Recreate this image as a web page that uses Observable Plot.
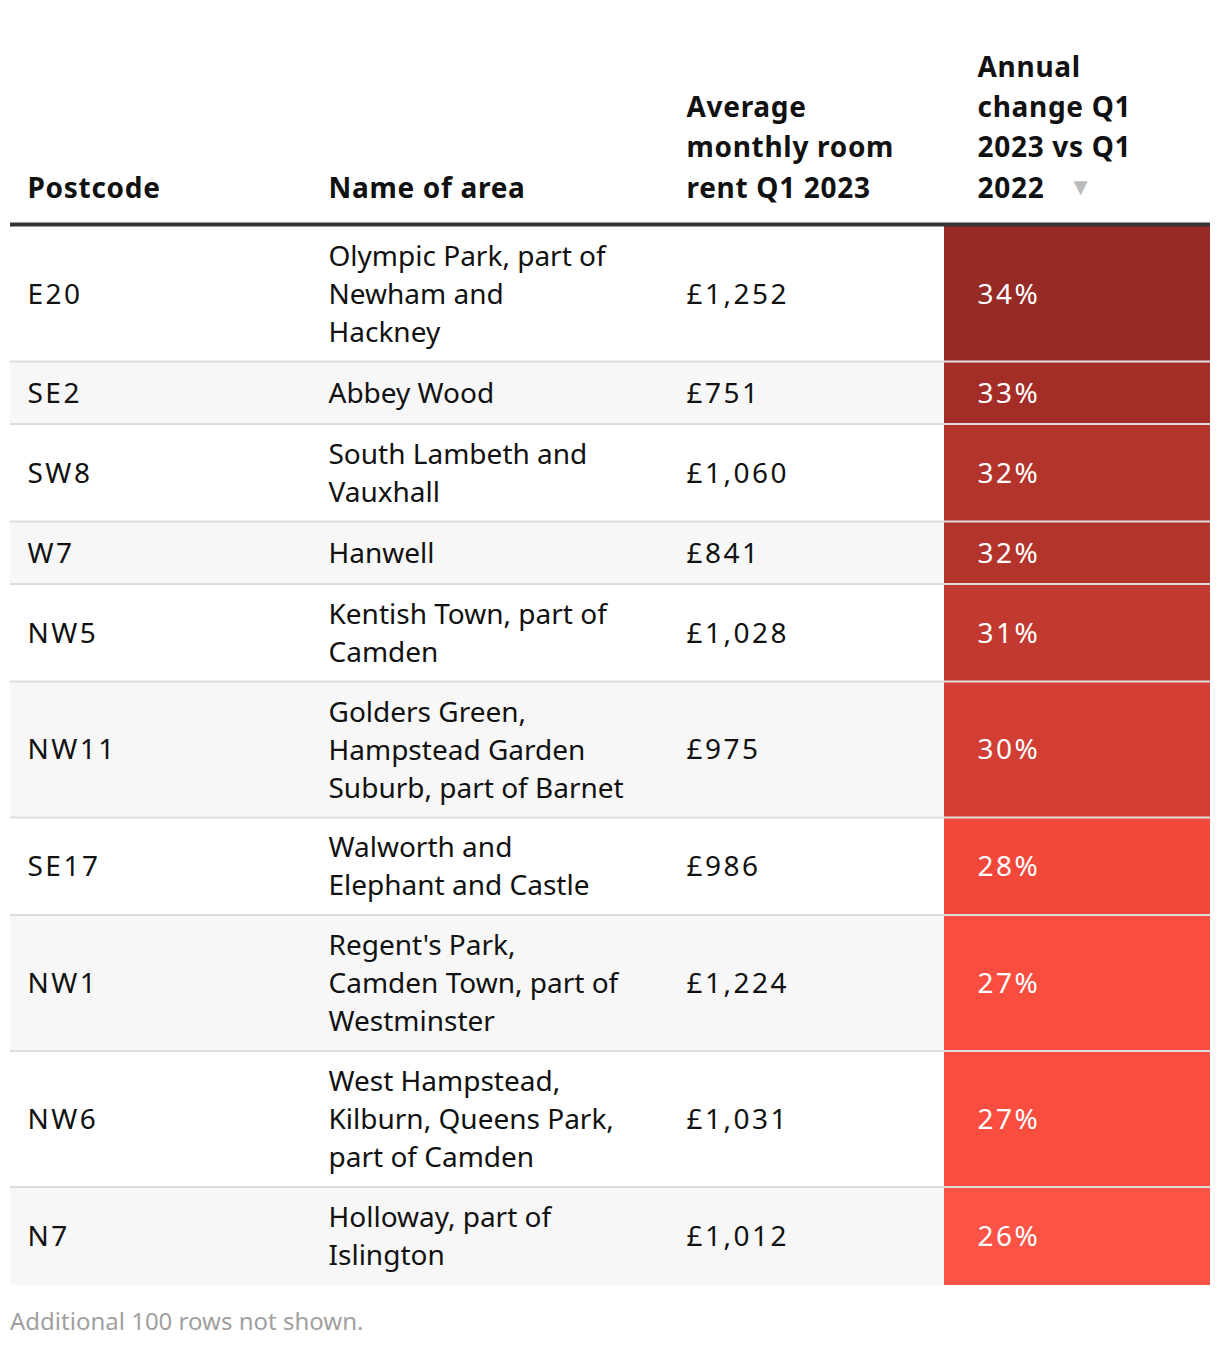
<!DOCTYPE html>
<html><head><meta charset="utf-8">
<script src="https://cdn.jsdelivr.net/npm/d3@7"></script>
<script src="https://cdn.jsdelivr.net/npm/@observablehq/plot@0.6"></script>
<style>
body{margin:0;background:#fff;font-family:"Noto Sans",sans-serif;}
#chart svg{display:block;}
#footer{margin:0 0 0 10px;font-size:24px;line-height:42px;color:#a0a0a0;}
</style></head><body>
<div id="chart"></div>
<div id="footer">Additional 100 rows not shown.</div>
<script>
const postcodes = ["E20","SE2","SW8","W7","NW5","NW11","SE17","NW1","NW6","N7"];
const areas = [
  "Olympic Park, part of\nNewham and\nHackney",
  "Abbey Wood",
  "South Lambeth and\nVauxhall",
  "Hanwell",
  "Kentish Town, part of\nCamden",
  "Golders Green,\nHampstead Garden\nSuburb, part of Barnet",
  "Walworth and\nElephant and Castle",
  "Regent's Park,\nCamden Town, part of\nWestminster",
  "West Hampstead,\nKilburn, Queens Park,\npart of Camden",
  "Holloway, part of\nIslington"
];
const rents = [1252,751,1060,841,1028,975,986,1224,1031,1012];
const changes = [34,33,32,32,31,30,28,27,27,26];
const headers = ["Postcode","Name of area","Average\nmonthly room\nrent Q1 2023","Annual\nchange Q1\n2023 vs Q1\n2022"];
const colorDomain = [26,27,28,30,31,32,33,34];
const colorRange = ["#fb5345","#f94e3f","#f2483b","#d23e33","#c23a2f","#b3342b","#a42d27","#962a25"];

// layout
const W = 1220, H = 1300;
const colX = [27, 328, 686, 977];
const tableX1 = 10, tableX2 = 1210, cellX1 = 944;
const headerLineY = 224, firstTop = 226;

let cursor = firstTop;
const rows = postcodes.map((p, i) => {
  const lines = areas[i].split("\n").length;
  const h = Math.max(62.5, 20 + 38.7 * lines);
  const r = {i, postcode: p, area: areas[i], rent: rents[i], change: changes[i], top: cursor, bottom: cursor + h, mid: cursor + h / 2};
  cursor += h;
  return r;
});
const headerRows = headers.map((t, i) => ({t, x: colX[i]}));
const fmt = d3.format(",");

const chart = Plot.plot({
  width: W, height: H,
  margin: 0,
  x: {domain: [0, W], range: [0, W], axis: null},
  y: {domain: [0, H], range: [0, H], axis: null},
  color: {type: "linear", domain: colorDomain, range: colorRange},
  style: {fontFamily: "'Noto Sans', sans-serif", fontSize: "28px", color: "#111", background: "white"},
  marks: [
    Plot.rect(rows, {x1: tableX1, x2: tableX2, y1: "top", y2: "bottom", fill: d => d.i % 2 ? "#f7f7f7" : "#ffffff"}),
    Plot.rect(rows, {x1: cellX1, x2: tableX2, y1: "top", y2: "bottom", fill: "change"}),
    Plot.ruleY(rows.slice(0, -1), {y: d => d.bottom - 1, x1: tableX1, x2: tableX2, stroke: "#dddddd", strokeWidth: 2}),
    Plot.ruleY([headerLineY], {x1: tableX1, x2: tableX2, stroke: "#333333", strokeWidth: 4}),
    Plot.text(headerRows, {x: "x", y: 197, text: "t", textAnchor: "start", lineAnchor: "bottom", lineHeight: 1.43, fontSize: 28, fontWeight: 700, fill: "#111"}),
    Plot.text(["▼"], {x: colX[3] + 103, y: 187, text: d => d, fontSize: 24, fill: "#bbbbbb"}),
    Plot.text(rows, {x: colX[0], y: "mid", text: "postcode", textAnchor: "start", fontSize: 28, fill: "#111"}),
    Plot.text(rows, {x: colX[1], y: "mid", dy: -3, text: "area", textAnchor: "start", lineHeight: 1.36, fontSize: 28, fill: "#111"}),
    Plot.text(rows, {x: colX[2], y: "mid", text: d => "£" + fmt(d.rent), textAnchor: "start", fontSize: 28, fill: "#111"}),
    Plot.text(rows, {x: colX[3], y: "mid", text: d => d.change + "%", textAnchor: "start", fontSize: 28, fill: "white"})
  ]
});
// letter spacing tweaks (header, postcode, rent, change text groups)
const textGroups = chart.querySelectorAll('g[aria-label="text"]');
const spacing = [0.7, 0, 2.5, 0, 2.5, 2.5];
textGroups.forEach((g, k) => { if (spacing[k]) g.style.letterSpacing = spacing[k] + "px"; });
document.getElementById("chart").append(chart);
</script>
</body></html>
